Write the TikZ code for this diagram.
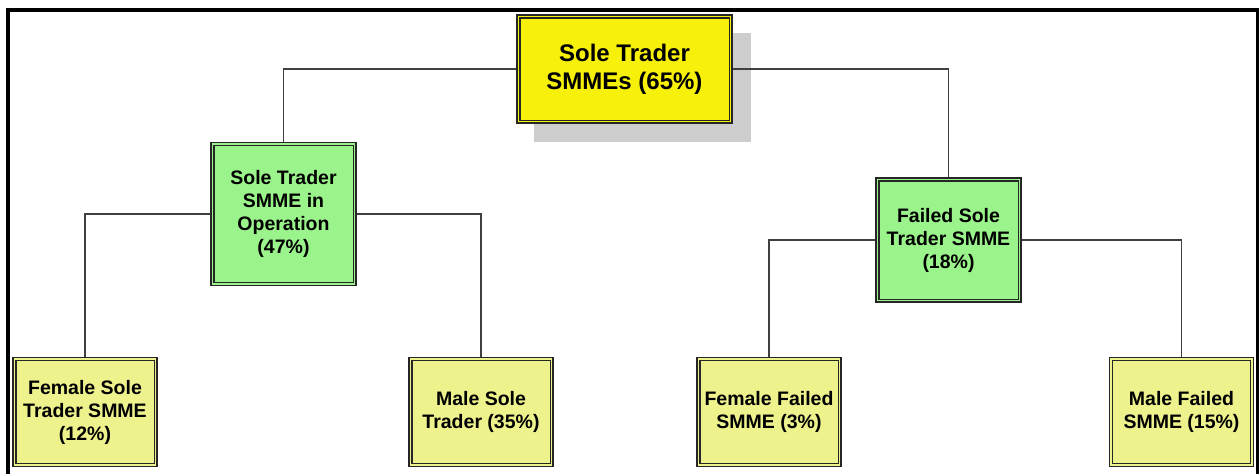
\documentclass[tikz,border=0pt]{standalone}
\usepackage{fontspec}
\setmainfont{Liberation Sans}
\definecolor{topyellow}{HTML}{F7F00A}
\definecolor{midgreen}{HTML}{9BF48B}
\definecolor{lightyellow}{HTML}{EEF28C}
\definecolor{shadowgray}{HTML}{CDCDCD}
\definecolor{linegray}{HTML}{404040}
\begin{document}
\begin{tikzpicture}[x=1pt,y=-1pt,
  boxbase/.style={rectangle, draw=black!85, line width=1.1pt, align=center, inner sep=0pt, text=black},
  topbox/.style={boxbase, fill=topyellow, minimum width=215pt, minimum height=108pt, font=\fontsize{24}{28}\selectfont\bfseries},
  midbox/.style={boxbase, fill=midgreen, font=\fontsize{19.5}{23}\selectfont\bfseries},
  leafbox/.style={boxbase, fill=lightyellow, minimum width=144pt, minimum height=109pt, font=\fontsize{19.5}{23}\selectfont\bfseries},
  innerline/.style={draw=black!85, line width=1.1pt},
  conn/.style={draw=linegray, line width=1.2pt}
]
\useasboundingbox (0,0) rectangle (1259,474);
% frame
\fill[black] (6,8) rectangle (1259,12);
\fill[black] (6,8) rectangle (10,474);
\fill[black] (1256,8) rectangle (1259,474);
% shadow of top box
\fill[shadowgray] (534,33) rectangle (751,142);
% nodes
\node[topbox] (top) at (624.5,69) {Sole Trader\\SMMEs (65\%)};
\node[midbox, minimum width=145pt, minimum height=143pt] (op) at (283.5,214) {Sole Trader\\SMME in\\Operation\\(47\%)};
\node[midbox, minimum width=145pt, minimum height=124pt] (fail) at (948.5,240) {Failed Sole\\Trader SMME\\(18\%)};
\node[leafbox] (fsole) at (85,412) {Female Sole\\Trader SMME\\(12\%)};
\node[leafbox] (msole) at (481,412) {Male Sole\\Trader (35\%)};
\node[leafbox] (ffail) at (769,412) {Female Failed\\SMME (3\%)};
\node[leafbox] (mfail) at (1181.5,412) {Male Failed\\SMME (15\%)};
% inner border lines
\foreach \n in {top,op,fail,fsole,msole,ffail,mfail}
  \draw[innerline] ([shift={(3.5,3.5)}]\n.north west) rectangle ([shift={(-3.5,-3.5)}]\n.south east);
% connectors
\draw[conn] (top.west) -| (op.north);
\draw[conn] (top.east) -| (fail.north);
\draw[conn] (op.west) -| (fsole.north);
\draw[conn] (op.east) -| (msole.north);
\draw[conn] (fail.west) -| (ffail.north);
\draw[conn] (fail.east) -| (mfail.north);
\end{tikzpicture}
\end{document}
